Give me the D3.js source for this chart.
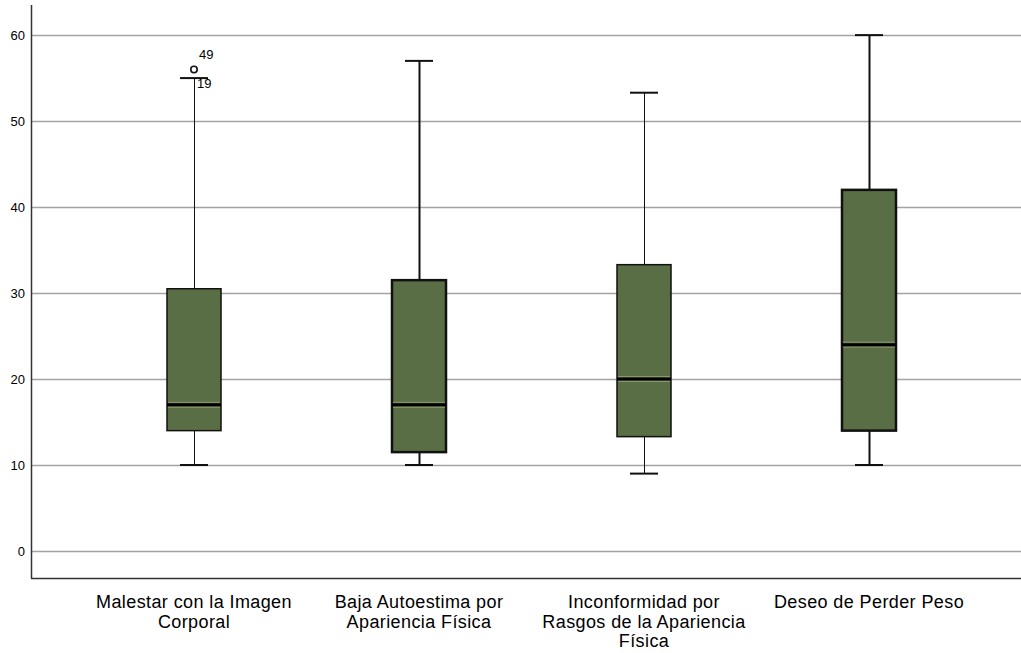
<!DOCTYPE html>
<html>
<head>
<meta charset="utf-8">
<script src="https://cdn.jsdelivr.net/npm/d3@7"></script>
<style>
  html, body { margin: 0; padding: 0; background: #ffffff; }
  svg { display: block; }
  text { font-family: "Liberation Sans", Arial, sans-serif; fill: #000; }
</style>
</head>
<body>
<svg id="chart" width="1021" height="653"></svg>
<script>
// Box plot summaries per scale
const categories = [
  ["Malestar con la Imagen", "Corporal"],
  ["Baja Autoestima por", "Apariencia Física"],
  ["Inconformidad por", "Rasgos de la Apariencia", "Física"],
  ["Deseo de Perder Peso"]
];
const whiskerLow  = [10, 10, 9, 10];
const q1Values    = [14, 11.5, 13.3, 14];
const medians     = [17, 17, 20, 24];
const q3Values    = [30.5, 31.5, 33.3, 42];
const whiskerHigh = [55, 57, 53.3, 60];
const strokeWidths = [1, 2, 1, 2];

// Outliers: [category index, value, case label]
const outliers = [
  [0, 56, "49"],
  [0, 56, "19"]
];

const yTicks = [0, 10, 20, 30, 40, 50, 60];

const width = 1021, height = 653;
const margin = { left: 31, top: 5, bottom: 578 };
const svg = d3.select("#chart");

const y = d3.scaleLinear()
  .domain([-3.14, 63.5])
  .range([margin.bottom, margin.top]);

const x = d3.scaleBand()
  .domain(d3.range(categories.length))
  .range([81.5, 981.5])
  .padding(0);

const boxWidth = 54;
const capWidth = 28;

// Gridlines
svg.append("g").selectAll("line")
  .data(yTicks)
  .join("line")
  .attr("x1", margin.left)
  .attr("x2", width)
  .attr("y1", d => Math.round(y(d)) + 0.5)
  .attr("y2", d => Math.round(y(d)) + 0.5)
  .attr("stroke", "#a3a3a3")
  .attr("stroke-width", 1.6);

// Y axis tick labels
const ya = svg.append("g")
  .attr("transform", `translate(${margin.left},0)`)
  .call(d3.axisLeft(y).tickValues(yTicks).tickSize(0).tickPadding(6));
ya.select(".domain").remove();
ya.selectAll("text")
  .attr("font-size", 13)
  .attr("font-family", "Liberation Sans, Arial, sans-serif")
  .attr("fill", "#000");

// Axis frame lines
svg.append("line")
  .attr("x1", margin.left + 0.5).attr("x2", margin.left + 0.5)
  .attr("y1", margin.top).attr("y2", margin.bottom + 0.5)
  .attr("stroke", "#333").attr("stroke-width", 1.5);
svg.append("line")
  .attr("x1", margin.left).attr("x2", width)
  .attr("y1", margin.bottom + 0.5).attr("y2", margin.bottom + 0.5)
  .attr("stroke", "#333").attr("stroke-width", 1.5);

// Boxes
const boxes = svg.append("g");
categories.forEach((cat, i) => {
  const cx = Math.round(x(i) + x.bandwidth() / 2);
  const sw = strokeWidths[i];
  const g = boxes.append("g");

  // whiskers
  g.append("line")
    .attr("x1", cx + 0.5).attr("x2", cx + 0.5)
    .attr("y1", y(whiskerHigh[i])).attr("y2", y(q3Values[i]))
    .attr("stroke", "#111").attr("stroke-width", sw);
  g.append("line")
    .attr("x1", cx + 0.5).attr("x2", cx + 0.5)
    .attr("y1", y(q1Values[i])).attr("y2", y(whiskerLow[i]))
    .attr("stroke", "#111").attr("stroke-width", sw);

  // caps
  [whiskerHigh[i], whiskerLow[i]].forEach(v => {
    g.append("line")
      .attr("x1", cx - capWidth / 2).attr("x2", cx + capWidth / 2)
      .attr("y1", y(v)).attr("y2", y(v))
      .attr("stroke", "#111").attr("stroke-width", 2);
  });

  // box body
  g.append("rect")
    .attr("x", cx - boxWidth / 2)
    .attr("y", y(q3Values[i]))
    .attr("width", boxWidth)
    .attr("height", y(q1Values[i]) - y(q3Values[i]))
    .attr("fill", "#5a6e45")
    .attr("stroke", "#111")
    .attr("stroke-width", sw + 0.5);

  // median with light edges
  const my = y(medians[i]);
  [-2.5, 2.5].forEach(off => {
    g.append("line")
      .attr("x1", cx - boxWidth / 2 + 1).attr("x2", cx + boxWidth / 2 - 1)
      .attr("y1", my + off).attr("y2", my + off)
      .attr("stroke", "#8a9a72").attr("stroke-width", 1);
  });
  g.append("line")
    .attr("x1", cx - boxWidth / 2).attr("x2", cx + boxWidth / 2)
    .attr("y1", my).attr("y2", my)
    .attr("stroke", "#000").attr("stroke-width", 3);
});

// Outlier marker and case labels
const ol = svg.append("g");
outliers.forEach(([ci, v, label], k) => {
  const cx = Math.round(x(ci) + x.bandwidth() / 2);
  if (k === 0) {
    ol.append("circle")
      .attr("cx", cx).attr("cy", y(v))
      .attr("r", 3.2)
      .attr("fill", "#fff")
      .attr("stroke", "#111")
      .attr("stroke-width", 1.6);
  }
  ol.append("text")
    .attr("x", cx + (k === 0 ? 5 : 3))
    .attr("y", y(v) + (k === 0 ? -10 : 19))
    .attr("font-size", 13)
    .text(label);
});

// Category labels
const xl = svg.append("g");
categories.forEach((lines, i) => {
  const cx = x(i) + x.bandwidth() / 2;
  const t = xl.append("text")
    .attr("text-anchor", "middle")
    .attr("font-size", 18)
    .attr("letter-spacing", 0.4)
    .attr("y", 608);
  lines.forEach((ln, j) => {
    t.append("tspan")
      .attr("x", cx)
      .attr("dy", j === 0 ? 0 : 19.5)
      .text(ln);
  });
});
</script>
</body>
</html>
